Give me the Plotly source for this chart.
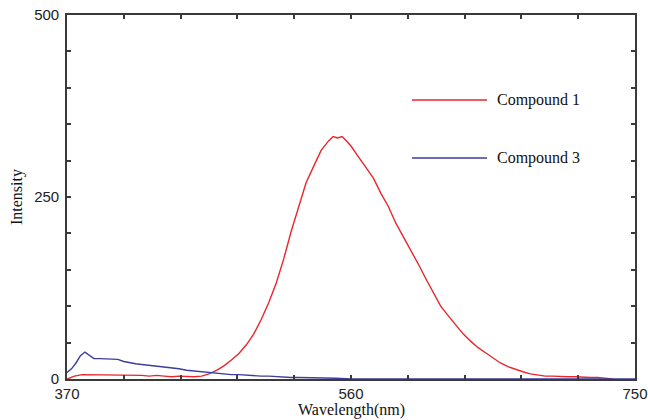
import plotly.graph_objects as go

# Emission spectra (wavelength in nm, intensity in a.u.)
wl_c1 = [370, 375, 380, 385, 390, 395, 400, 405, 410, 415, 420, 425, 430, 435,
         440, 445, 450, 455, 460, 465, 470, 475, 480, 485, 490, 495, 500, 505,
         510, 515, 520, 525, 530, 535, 540, 545, 548, 551, 554, 557, 560, 565,
         570, 575, 580, 585, 590, 595, 600, 605, 610, 615, 620, 625, 630, 635,
         640, 645, 650, 655, 660, 665, 670, 675, 680, 685, 690, 695, 700, 705,
         710, 715, 720, 725, 730, 735]
int_c1 = [0, 4, 6, 6, 5, 6, 5, 5, 6, 5, 5, 4, 5, 4,
          3, 4, 3, 3, 4, 7, 12, 18, 26, 35, 47, 62, 82, 105,
          132, 165, 203, 238, 270, 292, 314, 327, 333, 331, 333, 327, 320, 305,
          290, 276, 255, 237, 214, 196, 176, 158, 138, 120, 100, 87, 74, 62,
          52, 43, 36, 29, 22, 17, 13, 10, 7, 5, 4, 4, 3, 3,
          3, 2, 2, 2, 1, 0]

wl_c3 = [370, 373, 376, 379, 382, 385, 388, 392, 396, 400, 404, 408, 412, 416,
         420, 425, 430, 435, 440, 445, 450, 455, 460, 465, 470, 475, 480, 485,
         490, 495, 500, 505, 510, 515, 520, 525, 530, 540, 550, 560, 580, 600,
         650, 700, 750]
int_c3 = [9, 14, 22, 32, 37, 32, 28, 28, 28, 28, 27, 24, 22, 21,
          20, 19, 18, 17, 15, 14, 12, 11, 9, 8, 8, 7, 6, 6,
          5, 5, 4, 4, 3, 3, 2, 2, 2, 1, 1, 0, 0, 0,
          0, 0, 0]

series_names = ["Compound 1", "Compound 3"]
series_colors = ["#e8262c", "#3d3d9c"]

x_labels = [370, 560, 750]
y_labels = [0, 250, 500]

SERIF = "Liberation Serif, Times New Roman, serif"
SANS = "Liberation Sans, Arial, sans-serif"
FRAME = "#3a3a3a"

fig = go.Figure()
for wl, val, name, color in zip([wl_c1, wl_c3], [int_c1, int_c3],
                                series_names, series_colors):
    fig.add_trace(go.Scatter(x=wl, y=val, mode="lines", name=name,
                             line=dict(color=color, width=1.4),
                             showlegend=False))

# Hand-placed key: long line samples with labels beside them
key_y = [0.7665, 0.6071]
for yk, name, color in zip(key_y, series_names, series_colors):
    fig.add_shape(type="line", xref="paper", yref="paper",
                  x0=0.6074, x1=0.7394, y0=yk, y1=yk,
                  line=dict(color=color, width=1.6))
    fig.add_annotation(xref="paper", yref="paper", x=0.7535, y=yk,
                       text=name, showarrow=False, xanchor="left",
                       yanchor="middle",
                       font=dict(family=SERIF, size=16, color="#111"))

# Axis titles
fig.add_annotation(xref="paper", yref="paper", x=0.5, y=-0.085,
                   text="Wavelength(nm)", showarrow=False,
                   xanchor="center", yanchor="middle",
                   font=dict(family=SERIF, size=16, color="#111"))
fig.add_annotation(xref="paper", yref="paper", x=-0.088, y=0.5,
                   text="Intensity", showarrow=False, textangle=-90,
                   xanchor="center", yanchor="middle",
                   font=dict(family=SERIF, size=16, color="#111"))

fig.update_xaxes(
    range=[370, 750], tickvals=x_labels, ticktext=[str(v) for v in x_labels],
    ticks="inside", ticklen=4, tickwidth=1.5, tickcolor=FRAME,
    automargin=False,
    minor=dict(tick0=370, dtick=38, ticks="inside", ticklen=4,
               tickwidth=1.5, tickcolor=FRAME),
    showline=True, linecolor=FRAME, linewidth=1.6, mirror="ticks",
    showgrid=False, zeroline=False,
    tickfont=dict(family=SANS, size=15, color="#222"),
)
fig.update_yaxes(
    range=[0, 500], tickvals=y_labels, ticktext=[str(v) for v in y_labels],
    ticks="inside", ticklen=4, tickwidth=1.5, tickcolor=FRAME,
    ticklabelstandoff=3, automargin=False,
    minor=dict(tick0=0, dtick=50, ticks="inside", ticklen=4,
               tickwidth=1.5, tickcolor=FRAME),
    showline=True, linecolor=FRAME, linewidth=1.6, mirror="ticks",
    showgrid=False, zeroline=False,
    tickfont=dict(family=SANS, size=15, color="#222"),
)

fig.update_layout(
    width=648, height=420,
    margin=dict(l=67, r=13, t=15, b=41),
    paper_bgcolor="white", plot_bgcolor="white",
)

fig.write_html("out.html")
